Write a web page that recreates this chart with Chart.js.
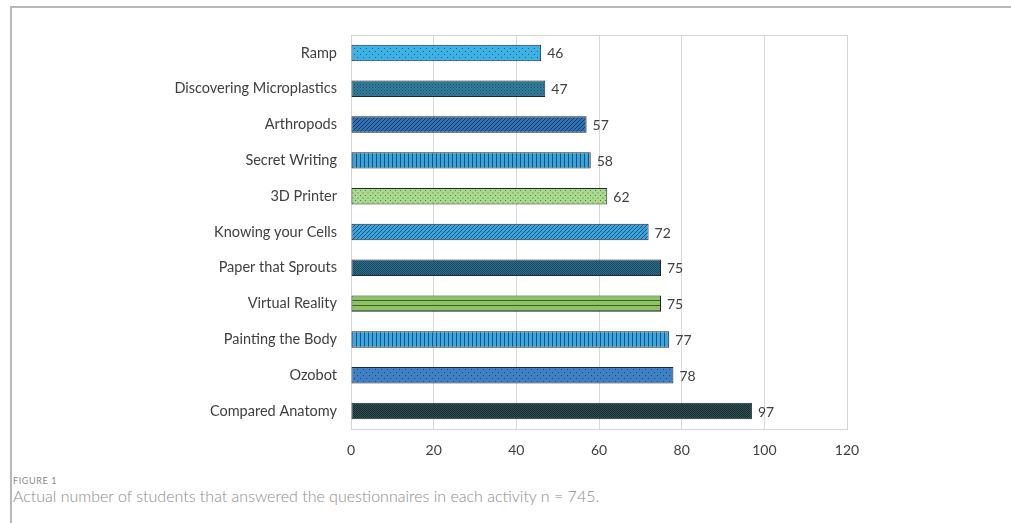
<!DOCTYPE html>
<html>
<head>
<meta charset="utf-8">
<script src="https://cdn.jsdelivr.net/npm/chart.js@4.4.1/dist/chart.umd.min.js"></script>
<style>
  html, body { margin: 0; padding: 0; background: #fff; }
  body { width: 1011px; height: 523px; position: relative; overflow: hidden; font-family: Lato, "Open Sans", sans-serif; }
  .frame { position: absolute; left: 10px; top: 6px; right: -2px; bottom: -2px; border-top: 2px solid #b8b8b8; border-left: 2px solid #b8b8b8; }
  .chart-box { position: absolute; left: 0; top: 0; width: 1011px; height: 465px; }
  .fig-no { position: absolute; left: 13px; top: 475px; font-size: 9px; letter-spacing: 0.6px; color: #8a8a8a; }
  .caption { position: absolute; left: 13px; top: 486px; font-size: 16px; color: #8c8c8c; font-weight: 300; }
</style>
</head>
<body>
<div class="frame"></div>
<div class="chart-box"><canvas id="activityChart"></canvas></div>
<div class="fig-no">FIGURE 1</div>
<div class="caption">Actual number of students that answered the questionnaires in each activity n = 745.</div>
<script>
const activities = ["Ramp", "Discovering Microplastics", "Arthropods", "Secret Writing", "3D Printer",
  "Knowing your Cells", "Paper that Sprouts", "Virtual Reality", "Painting the Body", "Ozobot", "Compared Anatomy"];
const students = [46, 47, 57, 58, 62, 72, 75, 75, 77, 78, 97];
const xTicks = [0, 20, 40, 60, 80, 100, 120];

// small tiled fills for each bar
function makePattern(bg, size, draw) {
  const c = document.createElement("canvas");
  c.width = size; c.height = size;
  const p = c.getContext("2d");
  p.fillStyle = bg;
  p.fillRect(0, 0, size, size);
  draw(p, size);
  return p.createPattern(c, "repeat");
}
function dots(fg) {
  return function (p, s) { p.fillStyle = fg; p.fillRect(0, 0, 1, 1); p.fillRect(s / 2, s / 2, 1, 1); };
}
function diag(fg) {
  return function (p, s) {
    p.strokeStyle = fg; p.lineWidth = 1;
    p.beginPath(); p.moveTo(0, s); p.lineTo(s, 0); p.moveTo(-1, 1); p.lineTo(1, -1); p.moveTo(s - 1, s + 1); p.lineTo(s + 1, s - 1); p.stroke();
  };
}
function vlines(fg) {
  return function (p, s) { p.fillStyle = fg; p.fillRect(0, 0, 1, s); };
}
function hlines(fg) {
  return function (p, s) { p.fillStyle = fg; p.fillRect(0, 0, s, 1); };
}
function checker(fg) {
  return function (p, s) { p.fillStyle = fg; p.fillRect(0, 0, 1, 1); p.fillRect(1, 1, 1, 1); };
}

const fills = [
  makePattern("#3cb2e4", 6, dots("#1d5f86")),
  makePattern("#33809e", 3, dots("#1c4a60")),
  makePattern("#2f70b2", 4, diag("#173e6a")),
  makePattern("#3aa3da", 4, vlines("#1a4f78")),
  makePattern("#a9d98d", 5, dots("#4f7d3c")),
  makePattern("#3ba4dc", 4, diag("#1b5580")),
  makePattern("#2c7090", 2, checker("#1a4659")),
  makePattern("#8dc463", 5, hlines("#3d5e27")),
  makePattern("#3ea5de", 4, vlines("#1a5580")),
  makePattern("#3f80c4", 6, dots("#1f4b7a")),
  makePattern("#2c4f53", 2, checker("#1a2e30"))
];

const chartFrame = {
  id: "chartFrame",
  beforeDatasetsDraw(chart) {
    const a = chart.chartArea, ctx = chart.ctx;
    ctx.save();
    ctx.strokeStyle = "#d4d4d4";
    ctx.lineWidth = 1;
    ctx.strokeRect(a.left + 0.5, a.top + 0.5, a.right - a.left, a.bottom - a.top);
    ctx.restore();
  }
};

const valueLabels = {
  id: "valueLabels",
  afterDatasetsDraw(chart) {
    const ctx = chart.ctx;
    ctx.save();
    ctx.font = "14px Lato, 'Open Sans', sans-serif";
    ctx.fillStyle = "#404040";
    ctx.textBaseline = "middle";
    chart.getDatasetMeta(0).data.forEach(function (bar, i) {
      ctx.fillText(students[i], bar.x + 6, bar.y + 1);
    });
    ctx.restore();
  }
};

new Chart(document.getElementById("activityChart"), {
  type: "bar",
  data: {
    labels: activities,
    datasets: [{
      data: students,
      backgroundColor: fills,
      borderColor: "#1e2a33",
      borderWidth: 1,
      borderSkipped: false,
      barPercentage: 0.46,
      categoryPercentage: 1
    }]
  },
  options: {
    indexAxis: "y",
    responsive: true,
    maintainAspectRatio: false,
    animation: false,
    layout: { padding: { left: 0, right: 164, top: 35, bottom: 0 } },
    scales: {
      x: {
        min: 0, max: 120,
        afterBuildTicks(scale) { scale.ticks = xTicks.map(v => ({ value: v })); },
        afterFit(scale) { scale.height = 36; },
        grid: { color: "#d9d9d9", drawTicks: false },
        border: { display: false },
        ticks: { padding: 13, color: "#404040", font: { family: "Lato", size: 14 } }
      },
      y: {
        afterFit(scale) { scale.width = 351; },
        grid: { display: false, drawTicks: false },
        border: { display: false },
        ticks: { padding: 14, color: "#404040", font: { family: "Lato", size: 14.5 } }
      }
    },
    plugins: {
      legend: { display: false },
      tooltip: { enabled: false }
    }
  },
  plugins: [chartFrame, valueLabels]
});
</script>
</body>
</html>
